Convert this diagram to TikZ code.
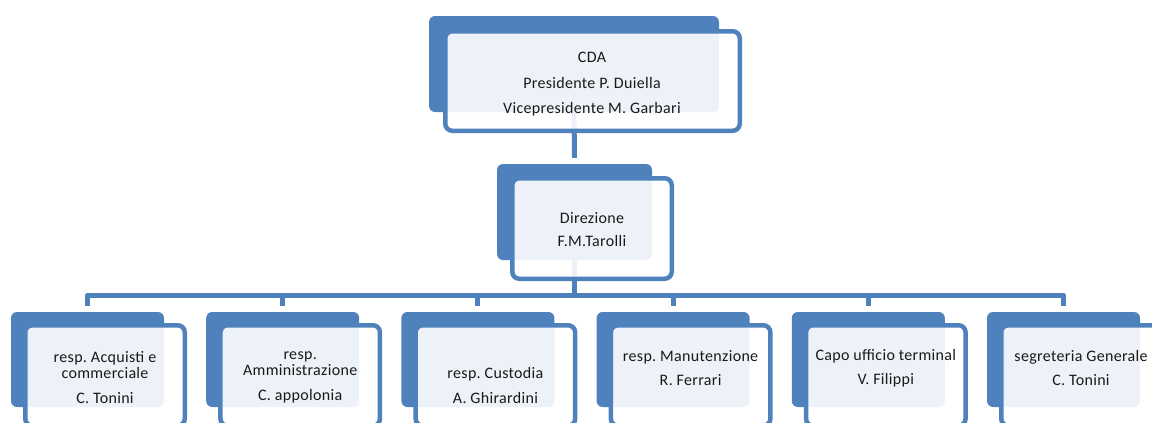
\documentclass[tikz,border=0pt]{standalone}
\usepackage{fontspec}
\setmainfont{Carlito}[LetterSpace=2]
\definecolor{smblue}{RGB}{79,129,189}
\frenchspacing
\begin{document}
\begin{tikzpicture}[x=1pt,y=-1pt,
  backbox/.style={fill=smblue, draw=none, rounded corners=6pt, inner sep=0pt},
  frontbox/.style={draw=smblue, line width=4.5pt, fill=white, fill opacity=0.9, rounded corners=7pt, inner sep=0pt},
  conn/.style={draw=smblue, line width=5pt, line join=round},
  lbl/.style={align=center, inner sep=0pt, font=\fontsize{16}{16}\selectfont, text=black!90}]
\useasboundingbox (0,0) rectangle (1152,423);
\clip (0,0) rectangle (1152,423);
% back boxes
\node[backbox, minimum width=290pt, minimum height=96pt] (cdaB) at (574,64) {};
\node[backbox, minimum width=155pt, minimum height=96pt] (dirB) at (574.5,212) {};
\foreach \k in {0,...,5}
  \node[backbox, minimum width=153pt, minimum height=95pt] (cB\k) at ({87.5+195.2*\k},359.5) {};
% connectors
\coordinate (bary) at (0,295);
\draw[conn] (cdaB.south) -- ([yshift=6pt]dirB.north);
\foreach \k in {0,...,5}
  \draw[conn] (dirB.south) -- (dirB.south |- bary) -| ([yshift=6pt]cB\k.north);
% front boxes
\node[frontbox, minimum width=294.5pt, minimum height=99.5pt] (cdaF) at (592.5,81) {};
\node[frontbox, minimum width=159.5pt, minimum height=100.5pt] (dirF) at (592,228.5) {};
\foreach \k in {0,...,5}
  \node[frontbox, minimum width=159.5pt, minimum height=100.5pt] (cF\k) at ({105+195.2*\k},375.5) {};
% texts
\node[lbl] (cdaT) at (592,84) {CDA\\[9.5pt]Presidente P. Duiella\\[9pt]Vicepresidente M. Garbari};
\node[lbl] (dirT) at (592,229.5) {Direzione\\[7pt]F.M.Tarolli};
\node[lbl] (t0) at (105,377.5) {resp. Acquisti e\\commerciale\\[8.5pt]C. Tonini};
\node[lbl] (t1) at (300.2,377.5) {resp.\\Amministrazione\\[8.5pt]C. appolonia};
\node[lbl] (t2) at (495.4,385.5) {resp. Custodia\\[9pt]A. Ghirardini};
\node[lbl] (t3) at (690.6,368) {resp. Manutenzione\\[8pt]R. Ferrari};
\node[lbl] (t4) at (885.8,368) {Capo ufficio terminal\\[8pt]V. Filippi};
\node[lbl] (t5) at (1081,368) {segreteria Generale\\[8pt]C. Tonini};
\end{tikzpicture}
\end{document}
